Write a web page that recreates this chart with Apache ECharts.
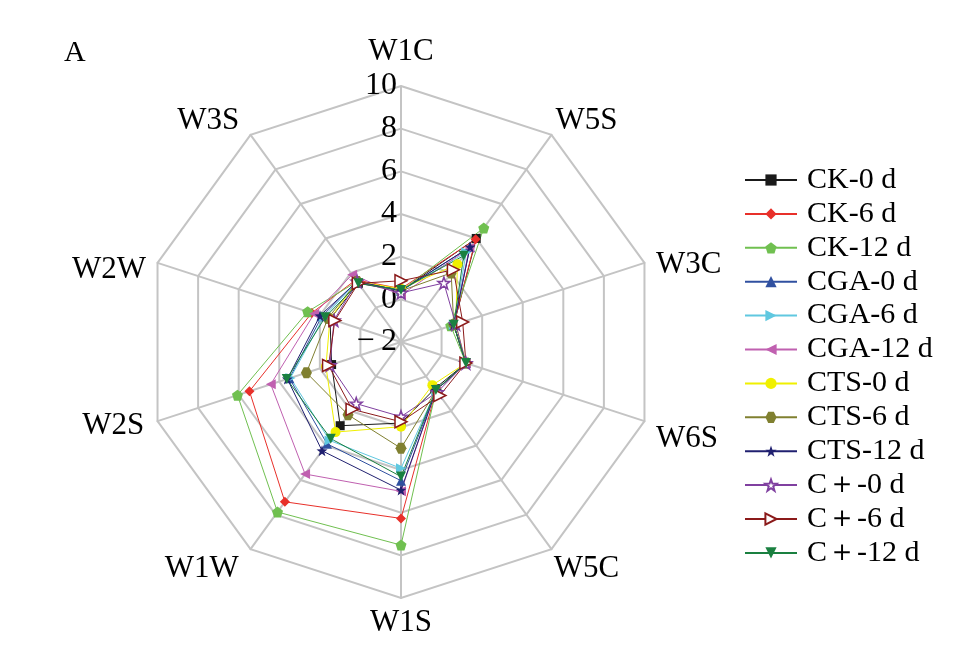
<!DOCTYPE html>
<html><head><meta charset="utf-8">
<script src="https://cdn.jsdelivr.net/npm/echarts@6/dist/echarts.min.js"></script>
<style>html,body{margin:0;padding:0;background:#fff}#c{width:977px;height:649px}</style>
</head><body><div id="c"></div>
<script>
// Axes in clockwise order starting at top, as in the reference
var indicators = ['W1C','W5S','W3C','W6S','W5C','W1S','W1W','W2S','W2W','W3S'];
var seriesNames = ['CK-0 d','CK-6 d','CK-12 d','CGA-0 d','CGA-6 d','CGA-12 d','CTS-0 d','CTS-6 d','CTS-12 d','C\uFF0B-0 d','C\uFF0B-6 d','C\uFF0B-12 d'];
var ck0   = [0.4, 4.0, 0.6, 1.2, 0.7, 1.8, 2.85, 1.42, 1.5, 1.4];
var ck6   = [0.5, 3.95, 0.6, 1.2, 0.8, 6.27, 7.26, 5.47, 2.4, 1.6];
var ck12  = [0.4, 4.6, 0.45, 1.2, 0.8, 7.52, 7.85, 6.06, 2.6, 1.5];
var cga0  = [0.4, 3.5, 0.6, 1.2, 0.8, 4.5, 3.9, 3.5, 1.9, 1.5];
var cga6  = [0.4, 3.2, 0.6, 1.2, 0.8, 3.92, 3.7, 3.45, 1.8, 1.5];
var cga12 = [0.2, 3.45, 0.6, 1.2, 0.8, 5.0, 5.65, 4.42, 2.28, 1.9];
var cts0  = [0.5, 2.5, 0.7, 1.2, 0.5, 1.97, 3.22, 1.7, 1.5, 1.5];
var cts6  = [0.4, 2.0, 0.6, 1.2, 0.8, 2.98, 2.22, 2.66, 1.6, 1.5];
var cts12 = [0.4, 3.51, 0.6, 1.2, 0.8, 4.94, 4.3, 3.6, 1.99, 1.5];
var cp0   = [0.3, 1.42, 0.7, 1.2, 0.9, 1.5, 1.57, 1.5, 1.3, 1.5];
var cp6   = [0.87, 2.18, 1.04, 1.2, 1.1, 1.74, 1.9, 1.57, 1.26, 1.4];
var cp12  = [0.44, 3.0, 0.6, 1.2, 0.78, 4.31, 3.6, 3.63, 1.74, 1.4];
var allValues = [ck0, ck6, ck12, cga0, cga6, cga12, cts0, cts6, cts12, cp0, cp6, cp12];
var axisMin = -2, axisMax = 10;

var P = {
  pent: 'path://M0,-10 L9.5,-3.1 L5.9,8.1 L-5.9,8.1 L-9.5,-3.1 Z',
  right: 'path://M-8,-9 L10,0 L-8,9 Z',
  left: 'path://M8,-9 L-10,0 L8,9 Z',
  down: 'path://M-9,-8 L9,-8 L0,10 Z',
  up: 'path://M-9,8 L9,8 L0,-10 Z',
  star: 'path://M0,-10 L2.4,-3.3 L9.5,-3.1 L3.8,1.2 L5.9,8.1 L0,4 L-5.9,8.1 L-3.8,1.2 L-9.5,-3.1 L-2.4,-3.3 Z',
  hex: 'path://M-5,-8.7 L5,-8.7 L10,0 L5,8.7 L-5,8.7 L-10,0 Z'
};
var styles = [
  {c:'#1a1a1a', s:'rect', size:9},
  {c:'#e8302a', s:'diamond', size:10},
  {c:'#70c050', s:P.pent, size:11},
  {c:'#3050a0', s:P.up, size:10},
  {c:'#60c8e0', s:P.right, size:10},
  {c:'#c060b0', s:P.left, size:10},
  {c:'#f0f000', s:'circle', size:10},
  {c:'#808030', s:P.hex, size:11},
  {c:'#202070', s:P.star, size:11},
  {c:'#8040a0', s:P.star, size:12, hollow:true},
  {c:'#8b1a1a', s:P.right, size:12, hollow:true},
  {c:'#1a8040', s:P.down, size:10}
];

// ECharts places radar indicators counter-clockwise: reorder
var order = [0, 9, 8, 7, 6, 5, 4, 3, 2, 1];
var font = 'Liberation Serif';
var nameFont = 31;

// per-axis name placement tweaks: [nameGap, padding]
var namePlace = {
  W1C: [19, [0,0,0,0]],
  W5S: [7,  [0,0,16,0]],
  W3C: [12, [12,0,0,0]],
  W6S: [12, [28,0,0,0]],
  W5C: [4,  [33,0,0,0]],
  W1S: [9,  [0,0,0,0]],
  W1W: [20, [7,0,0,0]],
  W2S: [14, [0,0,0,0]],
  W2W: [12, [22,0,0,0]],
  W3S: [19, [3,0,0,0]]
};
var rich = {};
indicators.forEach(function (n) {
  rich[n] = {fontSize: nameFont, fontFamily: font, color: '#000', padding: namePlace[n][1]};
});

var indicatorOpts = order.map(function (i, k) {
  var n = indicators[i];
  var o = {name: n, min: axisMin, max: axisMax, nameGap: namePlace[n][0]};
  if (k === 0) {
    o.axisLabel = {show: true, color: '#000', fontSize: 32, fontFamily: font, margin: 4,
      formatter: function (v) { return v < 0 ? '\u2212\u2009' + Math.abs(v) : String(v); }};
  }
  return o;
});

var radarData = allValues.map(function (vals, j) {
  var st = styles[j];
  return {
    name: seriesNames[j],
    value: order.map(function (i) { return vals[i]; }),
    symbol: st.s, symbolSize: st.size,
    itemStyle: st.hollow ? {color:'#fff', borderColor: st.c, borderWidth: 1.5} : {color: st.c},
    lineStyle: {color: st.c, width: 1}
  };
});

var legendSeries = seriesNames.map(function (n, j) {
  var st = styles[j];
  return {
    type: 'line', name: n, data: [], xAxisIndex: 0, yAxisIndex: 0,
    symbol: st.s, symbolSize: st.size,
    itemStyle: st.hollow ? {color:'#fff', borderColor: st.c, borderWidth: 1.5} : {color: st.c},
    lineStyle: {color: st.c, width: 1}
  };
});

var chart = echarts.init(document.getElementById('c'), null, {renderer: 'canvas'});
chart.setOption({
  animation: false,
  backgroundColor: '#fff',
  title: {text: 'A', left: 64, top: 38, padding: 0, textStyle: {fontFamily: font, fontSize: 30, fontWeight: 'normal', color: '#000'}},
  grid: {left: -200, top: -200, width: 10, height: 10, show: false},
  xAxis: {show: false, type: 'value'},
  yAxis: {show: false, type: 'value'},
  legend: {
    orient: 'vertical', left: 744, top: 165, padding: 0, itemWidth: 52, itemHeight: 14, itemGap: 3.9,
    data: seriesNames,
    textStyle: {fontFamily: font, fontSize: 30, color: '#000', padding: [0,0,0,5]}
  },
  radar: {
    center: [401, 342], radius: 256, startAngle: 90, shape: 'polygon', splitNumber: 6,
    indicator: indicatorOpts,
    nameGap: 12,
    axisName: {color: '#000', fontSize: nameFont, fontFamily: font, rich: rich,
      formatter: function (n) { return '{' + n + '|' + n + '}'; }},
    axisLine: {lineStyle: {color: '#c4c4c4', width: 2}},
    splitLine: {lineStyle: {color: '#c4c4c4', width: 2}},
    splitArea: {show: false},
    axisTick: {show: false}
  },
  series: legendSeries.concat([{
    type: 'radar', name: 'radar', data: radarData
  }])
});
</script></body></html>
